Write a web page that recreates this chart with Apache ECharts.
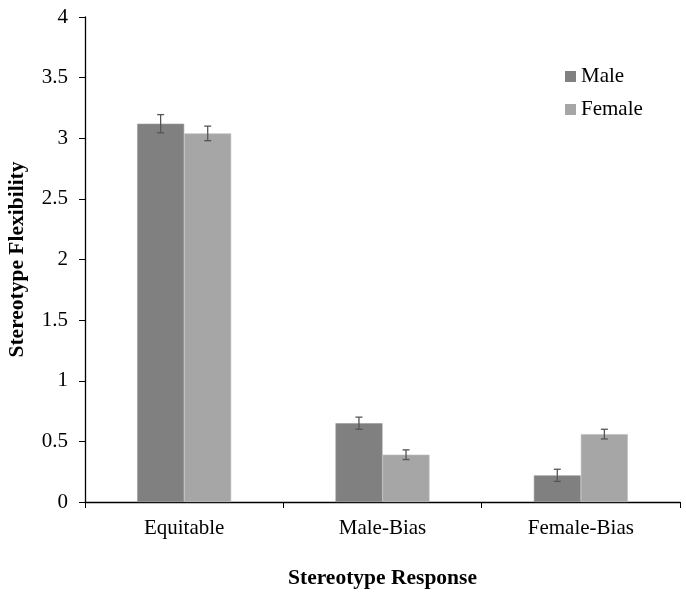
<!DOCTYPE html>
<html><head><meta charset="utf-8">
<script src="https://cdn.jsdelivr.net/npm/echarts@6/dist/echarts.min.js"></script>
<style>html,body{margin:0;padding:0;background:#fff}#c{width:686px;height:594px}</style>
</head><body><div id="c"></div>
<script>
const categories = ['Equitable', 'Male-Bias', 'Female-Bias'];
const maleValues = [3.12, 0.65, 0.22];
const femaleValues = [3.04, 0.39, 0.56];
const maleErr = [0.075, 0.05, 0.05];
const femaleErr = [0.06, 0.04, 0.04];
const yTicks = [0, 0.5, 1, 1.5, 2, 2.5, 3, 3.5, 4];

const FONT = '"Liberation Serif", "Times New Roman", serif';
const BAR_FRAC = 47 / 198;

function errSeries(vals, errs, side) {
  return {
    type: 'custom',
    z: 5,
    data: vals.map((v, i) => [i, v, errs[i]]),
    renderItem: function (params, api) {
      const i = api.value(0), v = api.value(1), e = api.value(2);
      const catW = api.size([1, 0])[0];
      const off = side * catW * BAR_FRAC / 2;
      const top = api.coord([i, v + e]);
      const bot = api.coord([i, v - e]);
      const x = top[0] + off;
      const cap = 3.5;
      const st = { stroke: '#555', lineWidth: 1.3 };
      return { type: 'group', children: [
        { type: 'line', shape: { x1: x, y1: top[1], x2: x, y2: bot[1] }, style: st },
        { type: 'line', shape: { x1: x - cap, y1: top[1], x2: x + cap, y2: top[1] }, style: st },
        { type: 'line', shape: { x1: x - cap, y1: bot[1], x2: x + cap, y2: bot[1] }, style: st }
      ]};
    }
  };
}

const chart = echarts.init(document.getElementById('c'), null, { renderer: 'canvas' });
chart.setOption({
  animation: false,
  backgroundColor: '#fff',
  textStyle: { fontFamily: FONT },
  grid: { left: 85, right: 6, top: 17, bottom: 92, containLabel: false, outerBoundsMode: 'none' },
  legend: {
    orient: 'vertical', left: 560, top: 61, itemWidth: 11, itemHeight: 11, itemGap: 12,
    icon: 'rect', itemStyle: { borderWidth: 0 },
    textStyle: { fontFamily: FONT, fontSize: 21, color: '#000' },
    data: ['Male', 'Female']
  },
  xAxis: {
    type: 'category', data: categories,
    name: 'Stereotype Response', nameLocation: 'middle', nameGap: 65,
    nameTextStyle: { fontFamily: FONT, fontSize: 21.5, fontWeight: 'bold', color: '#000' },
    axisLine: { lineStyle: { color: '#000', width: 1.3 } },
    axisTick: { show: true, inside: false, length: 6, alignWithLabel: false, lineStyle: { color: '#000' } },
    axisLabel: { fontFamily: FONT, fontSize: 21, color: '#000', margin: 16 }
  },
  yAxis: {
    type: 'value', min: 0, max: 4, interval: 0.5,
    name: 'Stereotype Flexibility', nameLocation: 'middle', nameGap: 57,
    nameTextStyle: { fontFamily: FONT, fontSize: 21.5, fontWeight: 'bold', color: '#000' },
    axisLine: { show: true, lineStyle: { color: '#000', width: 1.3 } },
    axisTick: { show: true, length: 6, lineStyle: { color: '#000' } },
    splitLine: { show: false },
    axisLabel: { fontFamily: FONT, fontSize: 21, color: '#000', margin: 17,
      formatter: v => yTicks.includes(v) ? String(v) : '' }
  },
  series: [
    { name: 'Male', type: 'bar', data: maleValues, barWidth: '23.7%', barGap: '0%',
      itemStyle: { color: '#808080', borderColor: '#9a9a9a', borderWidth: 0.6 } },
    { name: 'Female', type: 'bar', data: femaleValues, barWidth: '23.7%', barGap: '0%',
      itemStyle: { color: '#a6a6a6', borderColor: '#bdbdbd', borderWidth: 0.6 } },
    errSeries(maleValues, maleErr, -1),
    errSeries(femaleValues, femaleErr, 1)
  ]
});
</script>
</body></html>
